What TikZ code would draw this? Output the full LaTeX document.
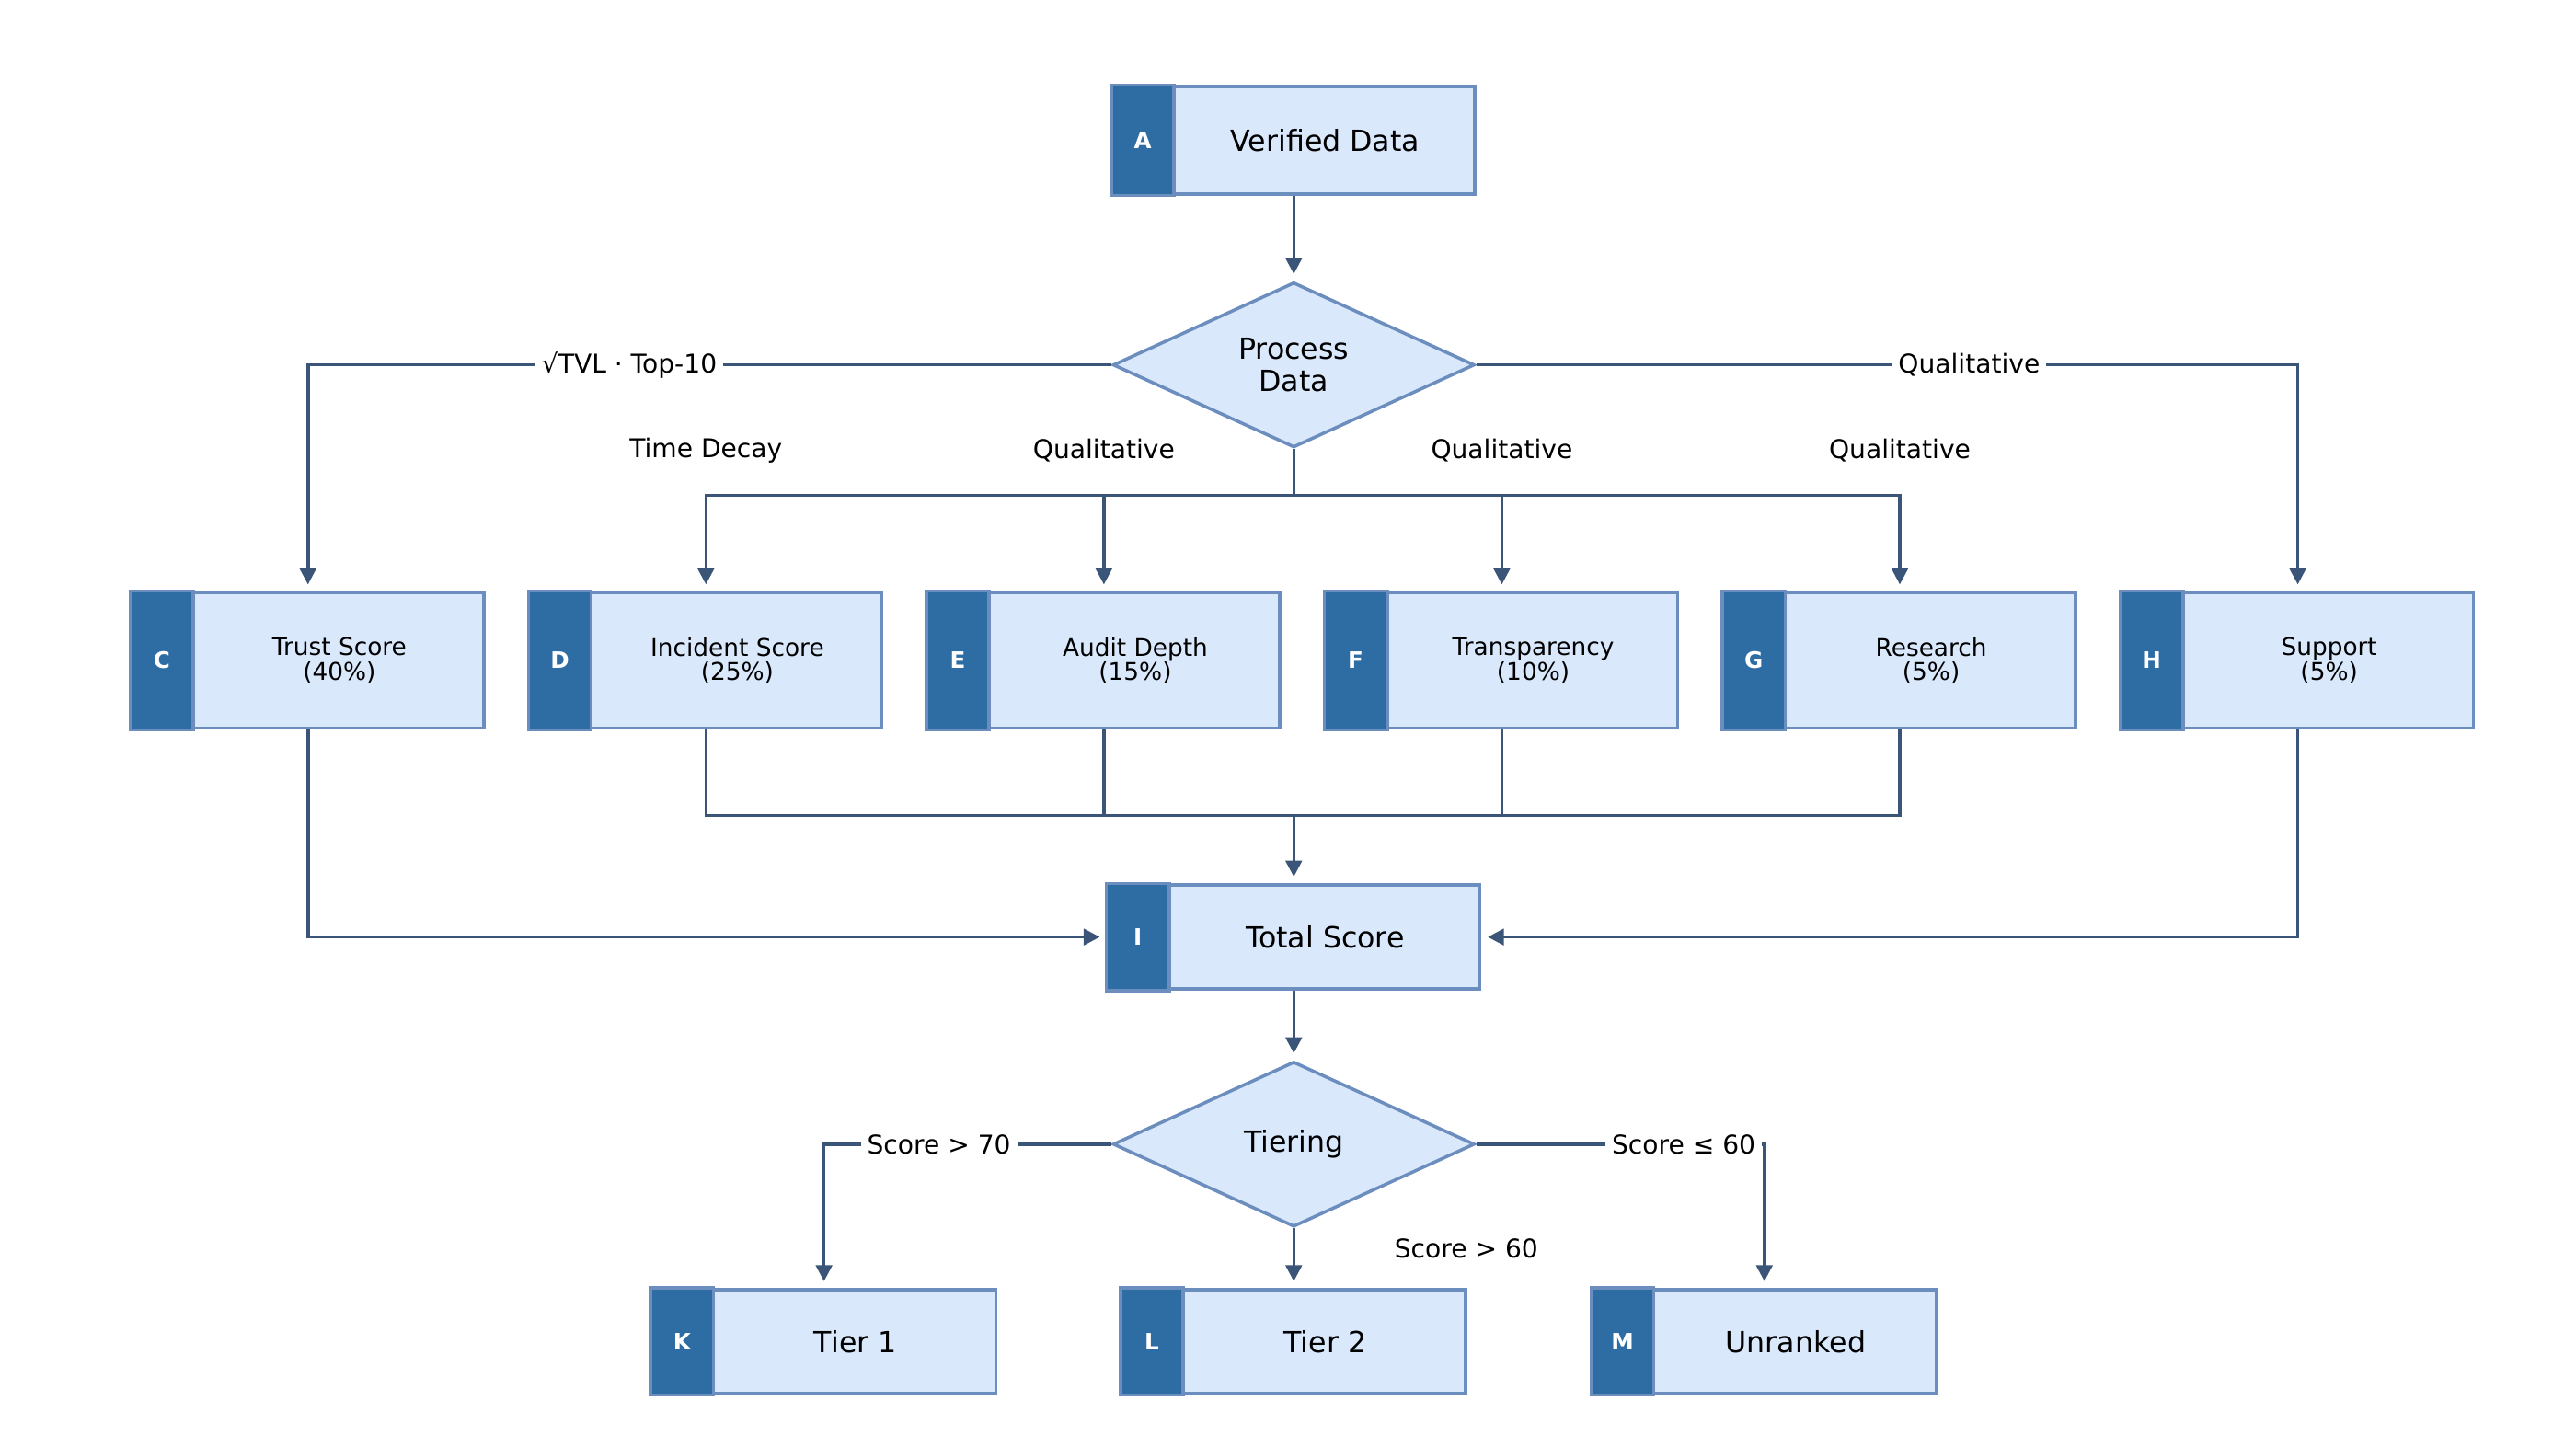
\documentclass[tikz,border=0pt]{standalone}
\usepackage{fontspec}
\setmainfont{DejaVu Sans}
\usetikzlibrary{shapes.geometric,arrows.meta}
\definecolor{tabc}{HTML}{2E6DA4}
\definecolor{boxf}{HTML}{DAE8FC}
\definecolor{boxd}{HTML}{6C8EBF}
\definecolor{arr}{HTML}{3A5577}
\newcommand\U{\unitlength}
\setlength\unitlength{0.01795cm}
\tikzset{
 box/.style={draw=boxd,fill=boxf,line width=1pt,rectangle,inner sep=0pt},
 dia/.style={draw=boxd,fill=boxf,line width=1pt,diamond,aspect=2.19,inner sep=0pt,minimum width=219\U,minimum height=100\U,font=\fontsize{9}{10}\selectfont,align=center},
 con/.style={draw=arr,line width=1pt,-{Triangle[length=5pt,width=5pt]}},
 ln/.style={draw=arr,line width=1pt},
 lab/.style={font=\fontsize{8}{9}\selectfont,fill=white,inner sep=2pt},
 tab/.style={fill=tabc,draw=boxd,line width=1pt},
 tabt/.style={text=white,font=\bfseries\fontsize{7}{8}\selectfont},
}
% \bx{name}{cx}{cy}{w}{h}{letter}{text}{fontsize}
\newcommand\bx[8]{%
 \node[box,minimum width=#4\U,minimum height=#5\U] (#1) at (#2,#3) {};
 \draw[tab] (#1.north west) rectangle ([xshift=38\U]#1.south west);
 \node[tabt] at ([xshift=19\U]#1.west) {#6};
 \node[align=center,font=\fontsize{#8}{#8}\selectfont] at ([xshift=19\U]#1.center) {#7};
}
\begin{document}
\begin{tikzpicture}[x=0.01795cm,y=-0.01795cm]
\useasboundingbox[fill=white] (0,0) rectangle (1560,869);
\bx{A}{783.5}{85}{219}{65}{A}{Verified Data}{9}
\node[dia] (P) at (783.5,221) {Process\\Data};
\bx{C}{186.5}{400}{213}{82}{C}{Trust Score\\(40\%)}{7.5}
\bx{D}{427.5}{400}{213}{82}{D}{Incident Score\\(25\%)}{7.5}
\bx{E}{668.5}{400}{213}{82}{E}{Audit Depth\\(15\%)}{7.5}
\bx{F}{909.5}{400}{213}{82}{F}{Transparency\\(10\%)}{7.5}
\bx{G}{1150.5}{400}{213}{82}{G}{Research\\(5\%)}{7.5}
\bx{H}{1391.5}{400}{213}{82}{H}{Support\\(5\%)}{7.5}
\bx{I}{783.5}{567.5}{225}{63}{I}{Total Score}{9}
\node[dia] (T) at (783.5,693) {Tiering};
\bx{K}{499}{812.5}{208}{63}{K}{Tier 1}{9}
\bx{L}{783.5}{812.5}{208}{63}{L}{Tier 2}{9}
\bx{M}{1068.5}{812.5}{208}{63}{M}{Unranked}{9}
\coordinate (s1) at (783.5,300);
\coordinate (s2) at (783.5,494);
\draw[con] (A) -- ([yshift=4\U]P.north);
\draw[con] (P.west) -| node[lab,pos=0.3]{√TVL · Top-10} ([yshift=4\U]C.north);
\draw[con] (P.east) -| node[lab,pos=0.3]{Qualitative} ([yshift=4\U]H.north);
\draw[ln] (P.south) -- (s1);
\foreach \n in {D,E,F,G}{\draw[con] (s1) -| ([yshift=4\U]\n.north);}
\node[lab] at (427.5,273) {Time Decay};
\node[lab] at (668.5,273) {Qualitative};
\node[lab] at (909.5,273) {Qualitative};
\node[lab] at (1150.5,273) {Qualitative};
\foreach \n in {D,E,F,G}{\draw[ln] (\n.south) |- (s2);}
\draw[con] (s2) -- ([yshift=4\U]I.north);
\draw[con] (C.south) |- ([xshift=-4\U]I.west);
\draw[con] (H.south) |- ([xshift=4\U]I.east);
\draw[con] (I) -- ([yshift=4\U]T.north);
\draw[con] (T.west) -| node[lab,pos=0.3]{Score > 70} ([yshift=4\U]K.north);
\draw[con] (T.east) -| node[lab,pos=0.36]{Score ≤ 60} ([yshift=4\U]M.north);
\draw[con] (T.south) -- ([yshift=4\U]L.north);
\node[lab] at (888,756) {Score > 60};
\end{tikzpicture}
\end{document}
